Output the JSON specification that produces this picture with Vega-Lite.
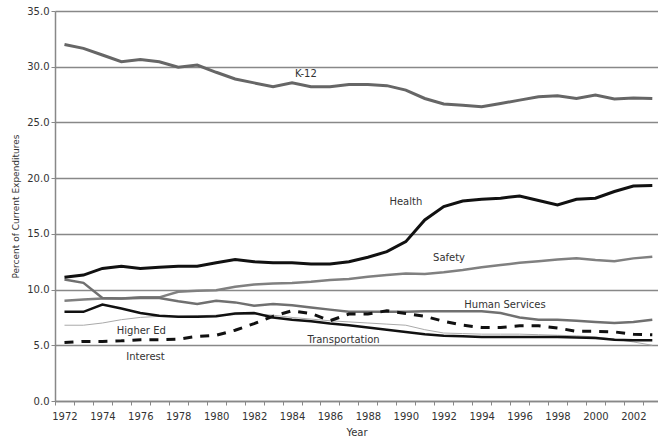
{
  "$schema": "https://vega.github.io/schema/vega-lite/v6.json",
  "width": 603,
  "height": 390,
  "autosize": "none",
  "padding": {"left": 55, "top": 11, "right": 0, "bottom": 39},
  "background": "white",
  "config": {
    "view": {"stroke": null},
    "font": "DejaVu Sans",
    "axis": {"labelFont": "DejaVu Sans", "titleFont": "DejaVu Sans", "labelColor": "#333333", "titleColor": "#333333", "titleFontWeight": "normal"}
  },
  "datasets": {
    "series": [
      {"year": 1972, "K12": 32.0, "Health": 11.1, "Safety": 9.0, "HumanServices": 10.9, "Transportation": 8.0, "HigherEd": 6.8, "Interest": 5.25},
      {"year": 1973, "K12": 31.65, "Health": 11.3, "Safety": 9.1, "HumanServices": 10.6, "Transportation": 8.0, "HigherEd": 6.8, "Interest": 5.35},
      {"year": 1974, "K12": 31.05, "Health": 11.9, "Safety": 9.2, "HumanServices": 9.25, "Transportation": 8.65, "HigherEd": 7.0, "Interest": 5.35},
      {"year": 1975, "K12": 30.45, "Health": 12.1, "Safety": 9.2, "HumanServices": 9.2, "Transportation": 8.3, "HigherEd": 7.3, "Interest": 5.4},
      {"year": 1976, "K12": 30.65, "Health": 11.9, "Safety": 9.3, "HumanServices": 9.25, "Transportation": 7.9, "HigherEd": 7.5, "Interest": 5.5},
      {"year": 1977, "K12": 30.45, "Health": 12.0, "Safety": 9.3, "HumanServices": 9.25, "Transportation": 7.65, "HigherEd": 7.6, "Interest": 5.5},
      {"year": 1978, "K12": 29.95, "Health": 12.1, "Safety": 9.8, "HumanServices": 8.95, "Transportation": 7.55, "HigherEd": 7.6, "Interest": 5.55},
      {"year": 1979, "K12": 30.15, "Health": 12.1, "Safety": 9.9, "HumanServices": 8.7, "Transportation": 7.55, "HigherEd": 7.65, "Interest": 5.8},
      {"year": 1980, "K12": 29.5, "Health": 12.4, "Safety": 9.95, "HumanServices": 9.0, "Transportation": 7.6, "HigherEd": 7.7, "Interest": 5.9},
      {"year": 1981, "K12": 28.9, "Health": 12.7, "Safety": 10.25, "HumanServices": 8.85, "Transportation": 7.85, "HigherEd": 7.75, "Interest": 6.35},
      {"year": 1982, "K12": 28.55, "Health": 12.5, "Safety": 10.45, "HumanServices": 8.55, "Transportation": 7.9, "HigherEd": 7.8, "Interest": 6.95},
      {"year": 1983, "K12": 28.2, "Health": 12.4, "Safety": 10.55, "HumanServices": 8.7, "Transportation": 7.5, "HigherEd": 7.7, "Interest": 7.6},
      {"year": 1984, "K12": 28.55, "Health": 12.4, "Safety": 10.6, "HumanServices": 8.6, "Transportation": 7.3, "HigherEd": 7.5, "Interest": 8.1},
      {"year": 1985, "K12": 28.2, "Health": 12.3, "Safety": 10.7, "HumanServices": 8.4, "Transportation": 7.15, "HigherEd": 7.35, "Interest": 7.85},
      {"year": 1986, "K12": 28.2, "Health": 12.3, "Safety": 10.85, "HumanServices": 8.2, "Transportation": 6.95, "HigherEd": 7.2, "Interest": 7.2},
      {"year": 1987, "K12": 28.4, "Health": 12.5, "Safety": 10.95, "HumanServices": 8.0, "Transportation": 6.8, "HigherEd": 7.1, "Interest": 7.8},
      {"year": 1988, "K12": 28.4, "Health": 12.9, "Safety": 11.15, "HumanServices": 8.0, "Transportation": 6.6, "HigherEd": 7.0, "Interest": 7.8},
      {"year": 1989, "K12": 28.3, "Health": 13.4, "Safety": 11.3, "HumanServices": 8.0, "Transportation": 6.4, "HigherEd": 6.9, "Interest": 8.1},
      {"year": 1990, "K12": 27.9, "Health": 14.3, "Safety": 11.45, "HumanServices": 8.0, "Transportation": 6.2, "HigherEd": 6.8, "Interest": 7.85},
      {"year": 1991, "K12": 27.15, "Health": 16.25, "Safety": 11.4, "HumanServices": 8.05, "Transportation": 6.0, "HigherEd": 6.4, "Interest": 7.6},
      {"year": 1992, "K12": 26.65, "Health": 17.45, "Safety": 11.55, "HumanServices": 8.05, "Transportation": 5.85, "HigherEd": 6.1, "Interest": 7.15},
      {"year": 1993, "K12": 26.55, "Health": 17.95, "Safety": 11.75, "HumanServices": 8.05, "Transportation": 5.8, "HigherEd": 6.05, "Interest": 6.8},
      {"year": 1994, "K12": 26.4, "Health": 18.1, "Safety": 12.0, "HumanServices": 8.05, "Transportation": 5.75, "HigherEd": 6.0, "Interest": 6.6},
      {"year": 1995, "K12": 26.7, "Health": 18.2, "Safety": 12.2, "HumanServices": 7.9, "Transportation": 5.75, "HigherEd": 6.0, "Interest": 6.6},
      {"year": 1996, "K12": 27.0, "Health": 18.4, "Safety": 12.4, "HumanServices": 7.5, "Transportation": 5.75, "HigherEd": 6.0, "Interest": 6.75},
      {"year": 1997, "K12": 27.3, "Health": 18.0, "Safety": 12.55, "HumanServices": 7.3, "Transportation": 5.75, "HigherEd": 5.95, "Interest": 6.75},
      {"year": 1998, "K12": 27.4, "Health": 17.6, "Safety": 12.7, "HumanServices": 7.3, "Transportation": 5.75, "HigherEd": 5.9, "Interest": 6.55},
      {"year": 1999, "K12": 27.15, "Health": 18.1, "Safety": 12.8, "HumanServices": 7.2, "Transportation": 5.7, "HigherEd": 5.85, "Interest": 6.25},
      {"year": 2000, "K12": 27.45, "Health": 18.2, "Safety": 12.65, "HumanServices": 7.1, "Transportation": 5.65, "HigherEd": 5.75, "Interest": 6.25},
      {"year": 2001, "K12": 27.1, "Health": 18.8, "Safety": 12.55, "HumanServices": 7.0, "Transportation": 5.5, "HigherEd": 5.55, "Interest": 6.2},
      {"year": 2002, "K12": 27.2, "Health": 19.3, "Safety": 12.8, "HumanServices": 7.1, "Transportation": 5.45, "HigherEd": 5.3, "Interest": 6.0},
      {"year": 2003, "K12": 27.15, "Health": 19.35, "Safety": 12.95, "HumanServices": 7.3, "Transportation": 5.45, "HigherEd": 5.0, "Interest": 5.95}
    ],
    "labels": [
      {"label": "K-12", "year": 1984.73, "value": 29.35},
      {"label": "Health", "year": 1990.0, "value": 17.9},
      {"label": "Safety", "year": 1992.28, "value": 12.8},
      {"label": "Human Services", "year": 1995.23, "value": 8.6},
      {"label": "Transportation", "year": 1986.72, "value": 5.48},
      {"label": "Higher Ed", "year": 1976.05, "value": 6.28},
      {"label": "Interest", "year": 1976.27, "value": 3.92}
    ]
  },
  "data": {"name": "series"},
  "encoding": {
    "x": {
      "field": "year",
      "type": "quantitative",
      "scale": {"domain": [1971.5, 2003.3], "nice": false, "zero": false},
      "axis": {
        "title": "Year",
        "titleFontSize": 10,
        "titlePadding": 6,
        "values": [1971.5, 1972, 1972.5, 1973.5, 1974, 1974.5, 1975.5, 1976, 1976.5, 1977.5, 1978, 1978.5, 1979.5, 1980, 1980.5, 1981.5, 1982, 1982.5, 1983.5, 1984, 1984.5, 1985.5, 1986, 1986.5, 1987.5, 1988, 1988.5, 1989.5, 1990, 1990.5, 1991.5, 1992, 1992.5, 1993.5, 1994, 1994.5, 1995.5, 1996, 1996.5, 1997.5, 1998, 1998.5, 1999.5, 2000, 2000.5, 2001.5, 2002, 2002.5],
        "labelExpr": "datum.value % 2 === 0 ? format(datum.value, 'd') : ''",
        "labelOverlap": false,
        "labelFlush": false,
        "labelFontSize": 10,
        "labelPadding": 6,
        "tickSize": 4,
        "tickColor": "#888888",
        "tickOpacity": {"condition": {"test": "datum.value % 1 === 0", "value": 0}, "value": 1},
        "domainColor": "#888888",
        "domainWidth": 1.5,
        "grid": false
      }
    }
  },
  "layer": [
    {
      "mark": {"type": "line", "color": "#aaaaaa", "strokeWidth": 1},
      "encoding": {
        "y": {
          "field": "HigherEd",
          "type": "quantitative",
          "scale": {"domain": [0, 35], "nice": false},
          "axis": {
            "title": "Percent of Current Expenditures",
            "titleFontSize": 9,
            "titlePadding": 6,
            "values": [0, 5, 10, 15, 20, 25, 30, 35],
            "format": ".1f",
            "labelFontSize": 10,
            "labelPadding": 2,
            "tickSize": 4,
            "tickColor": "#888888",
            "domainColor": "#888888",
            "domainWidth": 1.5,
            "grid": true,
            "gridColor": "#888888",
            "gridWidth": 1.5
          }
        }
      }
    },
    {"mark": {"type": "line", "color": "#808080", "strokeWidth": 2.5}, "encoding": {"y": {"field": "Safety", "type": "quantitative"}}},
    {"mark": {"type": "line", "color": "#707070", "strokeWidth": 2.5}, "encoding": {"y": {"field": "HumanServices", "type": "quantitative"}}},
    {"mark": {"type": "line", "color": "#666666", "strokeWidth": 3}, "encoding": {"y": {"field": "K12", "type": "quantitative"}}},
    {"mark": {"type": "line", "color": "#111111", "strokeWidth": 3}, "encoding": {"y": {"field": "Health", "type": "quantitative"}}},
    {"mark": {"type": "line", "color": "#111111", "strokeWidth": 2.5}, "encoding": {"y": {"field": "Transportation", "type": "quantitative"}}},
    {"mark": {"type": "line", "color": "#111111", "strokeWidth": 3, "strokeDash": [9, 8]}, "encoding": {"y": {"field": "Interest", "type": "quantitative"}}},
    {
      "data": {"name": "labels"},
      "mark": {"type": "text", "font": "DejaVu Sans", "fontSize": 10, "color": "#333333", "align": "center", "baseline": "middle"},
      "encoding": {
        "y": {"field": "value", "type": "quantitative"},
        "text": {"field": "label", "type": "nominal"}
      }
    }
  ]
}
